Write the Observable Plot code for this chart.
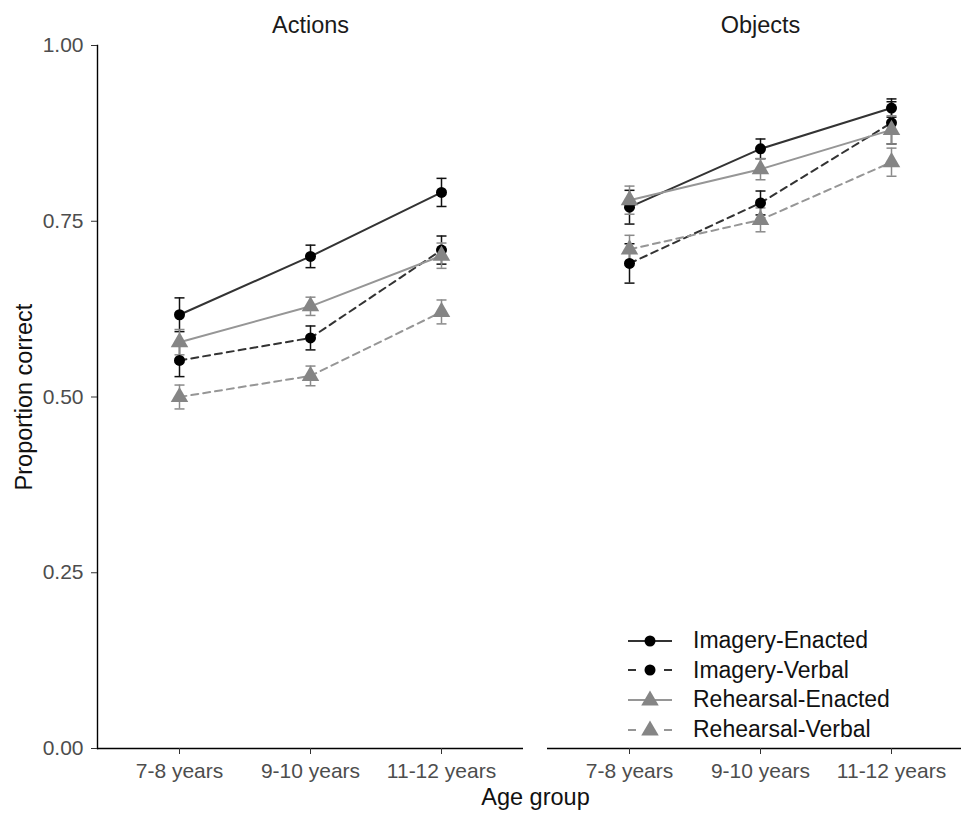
<!DOCTYPE html>
<html><head><meta charset="utf-8">
<script src="https://cdn.jsdelivr.net/npm/d3@7"></script>
<script src="https://cdn.jsdelivr.net/npm/@observablehq/plot@0.6"></script>
<style>
body{margin:0;background:#fff;font-family:"Liberation Sans",Arial,sans-serif;}
#wrap{position:relative;width:961px;height:820px;overflow:hidden;background:#fff;}
#legend{position:absolute;left:628px;top:626px;}
.row{display:flex;align-items:center;height:29.6px;font-size:23px;color:#111;white-space:nowrap;}
.row svg{margin-right:21px;flex:none;}
</style></head><body><div id="wrap"><div id="legend"></div></div>
<script>
// ---- data ----
const panels = ["Actions", "Objects"];
const ages = ["7-8 years", "9-10 years", "11-12 years"];
const conditions = ["Imagery-Enacted", "Imagery-Verbal", "Rehearsal-Enacted", "Rehearsal-Verbal"];
const yTicks = [0, 0.25, 0.5, 0.75, 1];
// means per condition (rows) by age group (columns)
const actionsMean = [
  [0.617, 0.700, 0.791],
  [0.552, 0.584, 0.709],
  [0.578, 0.629, 0.701],
  [0.500, 0.530, 0.621]
];
const objectsMean = [
  [0.770, 0.853, 0.911],
  [0.690, 0.776, 0.890],
  [0.780, 0.824, 0.880],
  [0.710, 0.752, 0.834]
];
// standard errors
const actionsSE = [
  [0.024, 0.016, 0.020],
  [0.023, 0.017, 0.020],
  [0.018, 0.013, 0.018],
  [0.017, 0.014, 0.017]
];
const objectsSE = [
  [0.024, 0.014, 0.013],
  [0.028, 0.017, 0.030],
  [0.020, 0.015, 0.020],
  [0.020, 0.017, 0.020]
];

// ---- styles ----
const styles = {
  "Imagery-Enacted":   {point: "#000000", line: "#333333", err: "#111111", dash: null,  symbol: "circle",   r: 5.5},
  "Imagery-Verbal":    {point: "#000000", line: "#333333", err: "#111111", dash: "7,5", symbol: "circle",   r: 5.5},
  "Rehearsal-Enacted": {point: "#858585", line: "#969696", err: "#8a8a8a", dash: null,  symbol: "triangle", r: 6.5},
  "Rehearsal-Verbal":  {point: "#858585", line: "#969696", err: "#8a8a8a", dash: "7,5", symbol: "triangle", r: 6.5}
};

const means = [actionsMean, objectsMean];
const ses = [actionsSE, objectsSE];
const rows = [];
panels.forEach((p, pi) => conditions.forEach((c, ci) => ages.forEach((a, ai) =>
  rows.push({panel: p, condition: c, age: a, mean: means[pi][ci][ai], se: ses[pi][ci][ai]}))));

const capSymbol = {draw(ctx, size) { const w = Math.sqrt(size / Math.PI); ctx.moveTo(-w, 0); ctx.lineTo(w, 0); }};

const marks = [
  Plot.ruleY([0], {stroke: "#000", strokeWidth: 1.4}),
  Plot.frame({anchor: "left", fx: "Actions", stroke: "#000", strokeWidth: 1.4}),
  Plot.axisY({ticks: yTicks, tickFormat: d3.format(".2f"), tickSize: 6, tickPadding: 8, fontSize: 21, fill: "#4d4d4d", stroke: "#333", label: null}),
  Plot.axisX({tickSize: 6, tickPadding: 9, fontSize: 21, fill: "#4d4d4d", stroke: "#333", label: null}),
  Plot.axisFx({anchor: "top", tickSize: 0, tickPadding: 13, fontSize: 23.5, fill: "#1a1a1a", label: null}),
  Plot.text(["Proportion correct"], {facet: "super", frameAnchor: "left", textAnchor: "middle", rotate: -90, dx: -73, fontSize: 23.5, fill: "#111"}),
  Plot.text(["Age group"], {facet: "super", frameAnchor: "bottom", dy: 56, fontSize: 23.5, fill: "#111"})
];

for (const c of conditions) {
  const s = styles[c];
  const d = rows.filter(r => r.condition === c);
  marks.push(
    Plot.ruleX(d, {fx: "panel", x: "age", y1: r => r.mean - r.se, y2: r => r.mean + r.se, stroke: s.err, strokeWidth: 1.5}),
    Plot.dot(d, {fx: "panel", x: "age", y: r => r.mean + r.se, symbol: capSymbol, r: 5, stroke: s.err, strokeWidth: 1.5}),
    Plot.dot(d, {fx: "panel", x: "age", y: r => r.mean - r.se, symbol: capSymbol, r: 5, stroke: s.err, strokeWidth: 1.5}),
    Plot.lineY(d, {fx: "panel", x: "age", y: "mean", stroke: s.line, strokeWidth: 2, strokeDasharray: s.dash ?? undefined})
  );
}
for (const c of conditions) {
  const s = styles[c];
  const d = rows.filter(r => r.condition === c);
  marks.push(Plot.dot(d, {fx: "panel", x: "age", y: "mean", symbol: s.symbol, r: s.r, fill: s.point, stroke: "none"}));
}

const chart = Plot.plot({
  width: 961,
  height: 820,
  marginTop: 45,
  marginBottom: 72,
  marginLeft: 96,
  marginRight: -13,
  style: {fontFamily: "'Liberation Sans', Arial, sans-serif", fontSize: "20px", background: "white", overflow: "visible"},
  fx: {domain: panels, paddingInner: 0.053, paddingOuter: 0, label: null},
  x: {type: "point", domain: ages, padding: 0.62, label: null},
  y: {domain: [0, 1], label: null},
  marks
});
document.getElementById("wrap").prepend(chart);

// legend
const legend = document.getElementById("legend");
for (const c of conditions) {
  const s = styles[c];
  const row = document.createElement("div");
  row.className = "row";
  const sym = s.symbol === "circle"
    ? `<circle cx="22" cy="10" r="5.5" fill="${s.point}"/>`
    : `<path d="${d3.symbol(d3.symbolTriangle, 6.5 * 6.5 * Math.PI)()}" transform="translate(22,10.5)" fill="${s.point}"/>`;
  row.innerHTML = `<svg width="44" height="20"><line x1="0" x2="44" y1="10" y2="10" stroke="${s.line}" stroke-width="2" ${s.dash ? 'stroke-dasharray="8,28"' : ''}/>${sym}</svg><span>${c}</span>`;
  legend.appendChild(row);
}
</script></body></html>
